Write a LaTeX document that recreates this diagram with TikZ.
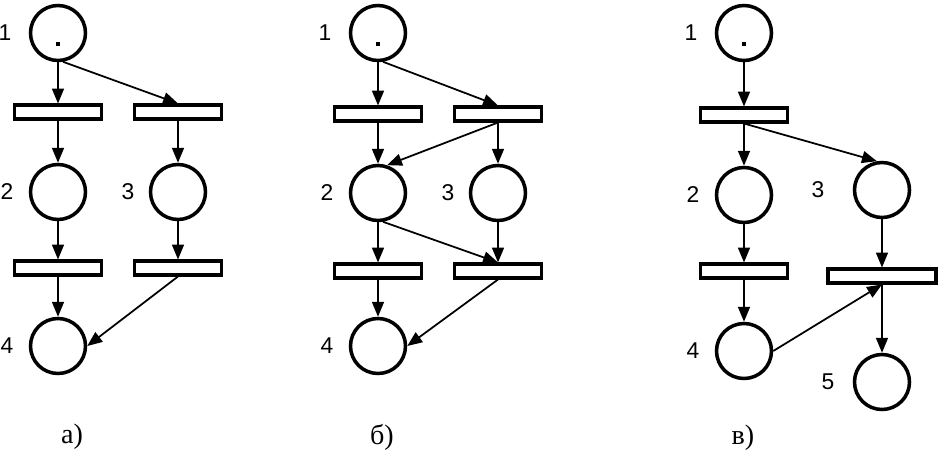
\documentclass[tikz,border=0pt]{standalone}
\usepackage{fontspec}
\newfontfamily\numfont{Liberation Sans}
\newfontfamily\capfont{Liberation Serif}
\usetikzlibrary{positioning, arrows.meta}

\tikzset{
  place/.style={circle, draw, line width=2pt, minimum size=1.1cm, inner sep=0pt},
  trans/.style={rectangle, draw, line width=2pt, minimum width=1.74cm, minimum height=0.27cm, inner sep=0pt},
  tok/.style={rectangle, fill, minimum size=2.6pt, inner sep=0pt},
  num/.style={font=\numfont\fontsize{13}{15}\selectfont, inner sep=0pt},
  capt/.style={font=\capfont\fontsize{16}{19}\selectfont, inner sep=0pt},
  arc/.style={-{Triangle[length=8.5pt,width=6.8pt]}, line width=1pt},
}

\begin{document}
\begin{tikzpicture}[x=0.2mm, y=-0.2mm]
  \useasboundingbox (0,0) rectangle (945,471);

  % a)
  \node[place] (pa1) at (58,33) {};
  \node[tok] (ka1) at (58,44) {};
  \node[trans] (ta1) at (58,112) {};
  \node[trans] (ta2) at (178,112) {};
  \node[place] (pa2) at (58,192) {};
  \node[place] (pa3) at (178,192) {};
  \node[trans] (ta3) at (58,268) {};
  \node[trans] (ta4) at (178,268) {};
  \node[place] (pa4) at (58,346) {};
  \node[num, left=0.34cm of pa1] (na1) {1};
  \node[num, left=0.3cm of pa2] (na2) {2};
  \node[num, left=0.28cm of pa3] (na3) {3};
  \node[num, left=0.3cm of pa4] (na4) {4};
  \node[capt] (ca) at (72,437) {а)};
  \draw[arc] (pa1) -- (ta1);
  \draw[arc] (pa1.-80) -- (ta2.north);
  \draw[arc] (ta1) -- (pa2);
  \draw[arc] (ta2) -- (pa3);
  \draw[arc] (pa2) -- (ta3);
  \draw[arc] (pa3) -- (ta4);
  \draw[arc] (ta3) -- (pa4);
  \draw[arc] (ta4.south) -- (pa4.east);

  % b)
  \node[place] (pb1) at (378,33) {};
  \node[tok] (kb1) at (378,44) {};
  \node[trans] (tb1) at (378,114) {};
  \node[trans] (tb2) at (498,114) {};
  \node[place] (pb2) at (378,193) {};
  \node[place] (pb3) at (498,193) {};
  \node[trans] (tb3) at (378,271) {};
  \node[trans] (tb4) at (498,271) {};
  \node[place] (pb4) at (378,346) {};
  \node[num, left=0.34cm of pb1] (nb1) {1};
  \node[num, left=0.3cm of pb2] (nb2) {2};
  \node[num, left=0.28cm of pb3] (nb3) {3};
  \node[num, left=0.3cm of pb4] (nb4) {4};
  \node[capt] (cb) at (382,437) {б)};
  \draw[arc] (pb1) -- (tb1);
  \draw[arc] (pb1.-80) -- (tb2.north);
  \draw[arc] (tb1) -- (pb2);
  \draw[arc] (tb2.south) -- (pb2.72);
  \draw[arc] (tb2) -- (pb3);
  \draw[arc] (pb2) -- (tb3);
  \draw[arc] (pb2.-80) -- (tb4.north);
  \draw[arc] (pb3) -- (tb4);
  \draw[arc] (tb3) -- (pb4);
  \draw[arc] (tb4.south) -- (pb4.east);

  % c)
  \node[place] (pc1) at (744,33) {};
  \node[tok] (kc1) at (744,44) {};
  \node[trans] (tc1) at (744,115) {};
  \node[place] (pc2) at (744,195) {};
  \node[place] (pc3) at (882,190) {};
  \node[trans] (tc2) at (744,271) {};
  \node[trans, minimum width=2.16cm] (tc3) at (882,276) {};
  \node[place] (pc4) at (744,351) {};
  \node[place] (pc5) at (882,382) {};
  \node[num, left=0.34cm of pc1] (nc1) {1};
  \node[num, left=0.3cm of pc2] (nc2) {2};
  \node[num, left=0.56cm of pc3] (nc3) {3};
  \node[num, left=0.3cm of pc4] (nc4) {4};
  \node[num, left=0.36cm of pc5] (nc5) {5};
  \node[capt] (cc) at (743,438) {в)};
  \draw[arc] (pc1) -- (tc1);
  \draw[arc] (tc1) -- (pc2);
  \draw[arc] (tc1.south) -- (pc3.100);
  \draw[arc] (pc2) -- (tc2);
  \draw[arc] (pc3) -- (tc3);
  \draw[arc] (tc2) -- (pc4);
  \draw[arc] (pc4.east) -- (tc3.south);
  \draw[arc] (tc3) -- (pc5);
\end{tikzpicture}
\end{document}
